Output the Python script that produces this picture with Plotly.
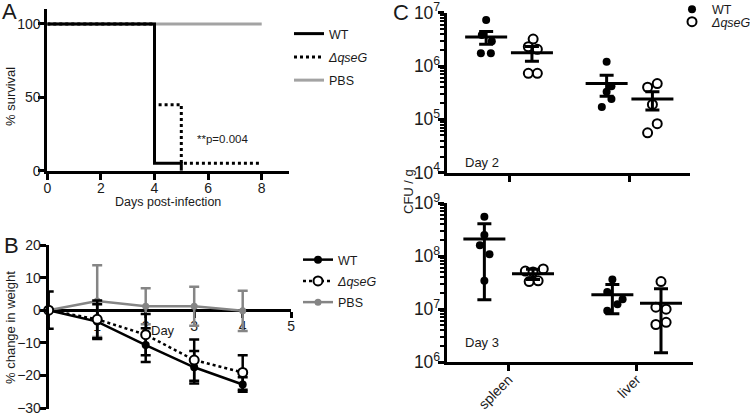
import plotly.graph_objects as go

# ---------------- DATA ----------------
# Panel A: survival (%)
surv_wt_days = [0, 4, 5]
surv_wt_pct = [100, 5, 0]
surv_qseg_days = [0, 4, 5, 8]
surv_qseg_pct = [100, 45, 5, 5]
surv_pbs_days = [0, 8]
surv_pbs_pct = [100, 100]
p_text = "**p=0.004"

# Panel B: % change in weight
weight_days = [0, 1, 2, 3, 4]
wt_weight = [0, -3.5, -10.7, -17.5, -22.8]
wt_weight_err = [5.7, 5.3, 5.2, 5.0, 2.2]
qseg_weight = [0, -2.8, -7.5, -15.3, -19.1]
qseg_weight_err = [0, 5.8, 6.3, 6.3, 5.3]
pbs_weight = [0, 2.8, 1.2, 1.2, -0.2]
pbs_weight_err = [0, 11.0, 5.5, 6.0, 6.2]

# Panel C: CFU / g
organs = ["spleen", "liver"]
d2_wt_spleen = [7.3e6, 3.8e6, 2.9e6, 1.73e6, 1.73e6]
d2_wt_liver = [1.2e6, 4.2e5, 3.3e5, 2.4e5, 1.7e5]
d2_qseg_spleen = [3.2e6, 2.3e6, 2.06e6, 7.3e5, 7.3e5]
d2_qseg_liver = [4.0e5, 4.7e5, 1.91e5, 8.3e4, 5.6e4]
d2_wt_mean = [3.5e6, 4.7e5]
d2_wt_err = [0.95e6, 2.0e5]
d2_qseg_mean = [1.78e6, 2.4e5]
d2_qseg_err = [0.55e6, 0.9e5]

d3_wt_spleen = [5.5e8, 2.5e8, 1.6e8, 1.08e8, 3.4e7]
d3_wt_liver = [3.6e7, 2.1e7, 1.52e7, 1.23e7, 9.3e6]
d3_qseg_spleen = [5.2e7, 5.0e7, 5.7e7, 3.3e7, 3.4e7]
d3_qseg_liver = [3.3e7, 1.08e7, 9.9e6, 5.1e6, 5.6e6]
d3_wt_mean = [2.1e8, 1.86e7]
d3_wt_err = [1.95e8, 1.05e7]
d3_qseg_mean = [4.6e7, 1.28e7]
d3_qseg_err = [1.0e7, 1.13e7]

# ---------------- STYLE / LAYOUT CONSTANTS ----------------
W, H = 750, 415
FONT = "Liberation Sans, Arial, sans-serif"
TXT = "#1a1a1a"
GRAY_A = "#a3a3a3"
GRAY_B = "#858585"
GROUP_OFFSET = 0.19
# horizontal scatter of points inside each group (category units)
jit_d2_wt_spleen = [0.0, -0.036, 0.047, -0.044, 0.039]
jit_d2_wt_liver = [0.0, 0.04, 0.0, 0.04, -0.04]
jit_d2_qseg_spleen = [0.01, -0.03, 0.045, -0.03, 0.045]
jit_d2_qseg_liver = [-0.04, 0.04, 0.0, 0.04, -0.04]
jit_d3_wt_spleen = [0.0, 0.0, -0.035, 0.04, 0.0]
jit_d3_wt_liver = [0.0, -0.04, 0.08, 0.04, -0.04]
jit_d3_qseg_spleen = [-0.06, 0.0, 0.08, -0.03, 0.04]
jit_d3_qseg_liver = [0.0, -0.04, 0.04, -0.04, 0.04]


def PX(x):
    return x / W


def PY(y):
    return 1 - y / H


fig = go.Figure()

# ---------------- Panel A ----------------
fig.add_trace(go.Scatter(x=surv_pbs_days, y=surv_pbs_pct, mode="lines", line_shape="hv",
                         line=dict(color=GRAY_A, width=3), name="PBS", legendgroup="a3",
                         xaxis="x", yaxis="y", legend="legend", legendrank=3))
fig.add_trace(go.Scatter(x=surv_qseg_days, y=surv_qseg_pct, mode="lines", line_shape="hv",
                         line=dict(color="black", width=3, dash="dot"), name="<i>ΔqseG</i>",
                         legendgroup="a2",
                         xaxis="x", yaxis="y", legend="legend", legendrank=2))
fig.add_trace(go.Scatter(x=surv_wt_days, y=surv_wt_pct, mode="lines", line_shape="hv",
                         line=dict(color="black", width=3), name="WT", legendgroup="a1",
                         xaxis="x", yaxis="y", legend="legend", legendrank=1))

# ---------------- Panel B ----------------
fig.add_trace(go.Scatter(x=weight_days, y=pbs_weight, mode="lines+markers", name="PBS",
                         legendgroup="b3",
                         line=dict(color=GRAY_B, width=2.5),
                         marker=dict(color=GRAY_B, size=7, symbol="circle"),
                         error_y=dict(type="data", array=pbs_weight_err, color=GRAY_B, thickness=2.5, width=5),
                         xaxis="x2", yaxis="y2", legend="legend2", legendrank=3, cliponaxis=False))
fig.add_trace(go.Scatter(x=weight_days, y=wt_weight, mode="lines+markers", name="WT",
                         legendgroup="b1",
                         line=dict(color="black", width=2.5),
                         marker=dict(color="black", size=8, symbol="circle"),
                         error_y=dict(type="data", array=wt_weight_err, color="black", thickness=2.5, width=5),
                         xaxis="x2", yaxis="y2", legend="legend2", legendrank=1, cliponaxis=False))
fig.add_trace(go.Scatter(x=weight_days, y=qseg_weight, mode="lines+markers", name="<i>ΔqseG</i>",
                         legendgroup="b2",
                         line=dict(color="black", width=2.5, dash="dot"),
                         marker=dict(color="white", size=9, symbol="circle",
                                     line=dict(color="black", width=2)),
                         error_y=dict(type="data", array=qseg_weight_err, color="black", thickness=2.5, width=5),
                         xaxis="x2", yaxis="y2", legend="legend2", legendrank=2, cliponaxis=False))

# ---------------- Panel C ----------------
def add_group(xa, ya, org_idx, sign, vals, jit, mean, err, filled, show_legend, name, lg):
    xs = [org_idx + sign * GROUP_OFFSET + j for j in jit]
    if filled:
        mk = dict(color="black", size=8, symbol="circle")
    else:
        mk = dict(color="white", size=9, symbol="circle", line=dict(color="black", width=2))
    fig.add_trace(go.Scatter(x=xs, y=vals, mode="markers", marker=mk, name=name,
                             showlegend=show_legend, legend=lg,
                             xaxis=xa, yaxis=ya, cliponaxis=False))
    fig.add_trace(go.Scatter(x=[org_idx + sign * GROUP_OFFSET], y=[mean], mode="markers",
                             marker=dict(symbol="line-ew", size=30, line=dict(color="black", width=3)),
                             error_y=dict(type="data", array=[err], color="black", thickness=3, width=7),
                             showlegend=False, xaxis=xa, yaxis=ya, cliponaxis=False))


add_group("x3", "y3", 0, -1, d2_wt_spleen, jit_d2_wt_spleen, d2_wt_mean[0], d2_wt_err[0], True, True, "WT", "legend3")
add_group("x3", "y3", 0, 1, d2_qseg_spleen, jit_d2_qseg_spleen, d2_qseg_mean[0], d2_qseg_err[0], False, True, "<i>ΔqseG</i>", "legend4")
add_group("x3", "y3", 1, -1, d2_wt_liver, jit_d2_wt_liver, d2_wt_mean[1], d2_wt_err[1], True, False, "WT", "legend3")
add_group("x3", "y3", 1, 1, d2_qseg_liver, jit_d2_qseg_liver, d2_qseg_mean[1], d2_qseg_err[1], False, False, "ΔqseG", "legend4")
add_group("x4", "y4", 0, -1, d3_wt_spleen, jit_d3_wt_spleen, d3_wt_mean[0], d3_wt_err[0], True, False, "WT", "legend3")
add_group("x4", "y4", 0, 1, d3_qseg_spleen, jit_d3_qseg_spleen, d3_qseg_mean[0], d3_qseg_err[0], False, False, "ΔqseG", "legend4")
add_group("x4", "y4", 1, -1, d3_wt_liver, jit_d3_wt_liver, d3_wt_mean[1], d3_wt_err[1], True, False, "WT", "legend3")
add_group("x4", "y4", 1, 1, d3_qseg_liver, jit_d3_qseg_liver, d3_qseg_mean[1], d3_qseg_err[1], False, False, "ΔqseG", "legend4")

# ---------------- Axes ----------------
axis_common = dict(showline=True, linecolor="black", linewidth=3, ticks="outside",
                   tickcolor="black", tickwidth=2.5, ticklen=6, showgrid=False, zeroline=False,
                   ticklabeloverflow="allow",
                   tickfont=dict(family=FONT, size=14, color=TXT))
minor_log = dict(ticks="outside", ticklen=4, tickwidth=1.5, tickcolor="black", dtick="D1", showgrid=False)

fig.update_layout(
    xaxis=dict(domain=[PX(47.3), PX(288.5)], range=[0, 9], tickvals=[0, 2, 4, 6, 8],
               anchor="y", ticklabelstandoff=-4, **axis_common),
    yaxis=dict(domain=[PY(170.7), PY(9.3)], range=[0, 110], tickvals=[0, 50, 100],
               anchor="x", ticklabelstandoff=-5, **axis_common),
    xaxis2=dict(domain=[PX(48.7), PX(291.2)], range=[0, 5], tickvals=[1, 2, 3, 4, 5],
                anchor="free", position=PY(310.2), layer="below traces",
                ticklabelstandoff=-4, **axis_common),
    yaxis2=dict(domain=[PY(409), PY(245)], range=[-30.3, 20], tickvals=[-30, -20, -10, 0, 10, 20],
                anchor="x2", ticklabelstandoff=-4, **axis_common),
    xaxis3=dict(domain=[PX(447), PX(690)], range=[-0.515, 1.502], tickvals=[0, 1],
                showticklabels=False, anchor="y3", **axis_common),
    yaxis3=dict(domain=[PY(172.7), PY(12.7)], type="log", range=[4, 7], dtick=1,
                exponentformat="power", anchor="x3", minor=minor_log, ticklabelstandoff=-5,
                **axis_common),
    xaxis4=dict(domain=[PX(447), PX(693)], range=[-0.482, 1.44], tickvals=[0, 1], ticktext=organs,
                tickangle=-45, anchor="y4", ticklabelstandoff=-5, **axis_common),
    yaxis4=dict(domain=[PY(362), PY(203)], type="log", range=[6, 9], dtick=1,
                exponentformat="power", anchor="x4", minor=minor_log, ticklabelstandoff=-5,
                **axis_common),
)

legend_common = dict(bgcolor="rgba(0,0,0,0)", font=dict(family=FONT, size=12.5, color=TXT),
                     xanchor="left", yanchor="top", traceorder="grouped", tracegroupgap=4)
fig.update_layout(
    legend=dict(x=PX(289), y=PY(19), **legend_common),
    legend2=dict(x=PX(298), y=PY(245), **dict(legend_common, tracegroupgap=2)),
    legend3=dict(x=PX(672), y=PY(-5.5), **legend_common),
    legend4=dict(x=PX(672), y=PY(7), **legend_common),
)

ann = []


def text(x, y, s, size=13, angle=0, xanchor="center"):
    ann.append(dict(x=PX(x), y=PY(y), xref="paper", yref="paper", text=s, showarrow=False,
                    textangle=angle, xanchor=xanchor, yanchor="middle",
                    font=dict(family=FONT, size=size, color=TXT)))


text(9, 11, "A", 22)
text(11, 245, "B", 22)
text(401, 12, "C", 22)
text(10, 97, "% survival", 13, -90)
text(168, 202, "Days post-infection", 12.5)
text(10, 328, "% change in weight", 13, -90)
text(163, 330, "Day", 13)
text(408, 192, "CFU / g", 13, -90)
text(463, 162, "Day 2", 13, xanchor="left")
text(463, 342, "Day 3", 13, xanchor="left")
ann.append(dict(x=5.5, y=21.6, xref="x", yref="y", text=p_text, showarrow=False,
                xanchor="left", yanchor="middle", font=dict(family=FONT, size=11.5, color=TXT)))

fig.update_layout(annotations=ann, width=W, height=H,
                  margin=dict(l=0, r=0, t=0, b=0, autoexpand=False),
                  paper_bgcolor="white", plot_bgcolor="white",
                  font=dict(family=FONT, color=TXT))

fig.write_html("out.html", config={"displayModeBar": False},
               post_script="document.body.style.margin='0px';document.body.style.overflow='hidden';")
